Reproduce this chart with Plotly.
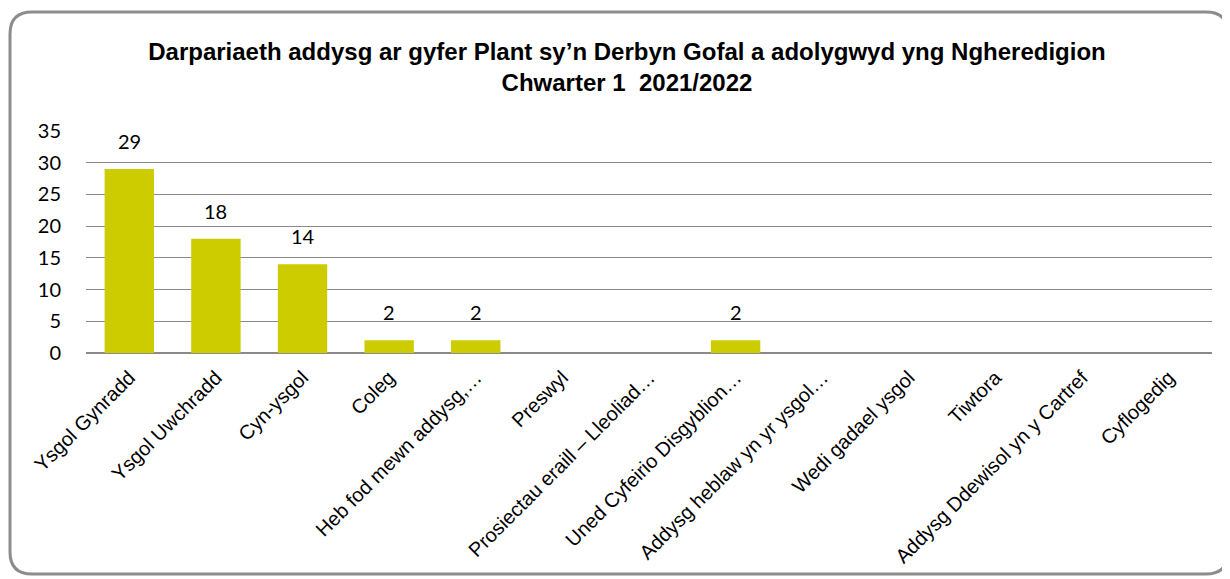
import plotly.graph_objects as go

categories = [
    "Ysgol Gynradd", "Ysgol Uwchradd", "Cyn-ysgol", "Coleg", "Heb fod mewn addysg,…",
    "Preswyl", "Prosiectau eraill – Lleoliad…", "Uned Cyfeirio Disgyblion…",
    "Addysg heblaw yn yr ysgol…", "Wedi gadael ysgol", "Tiwtora",
    "Addysg Ddewisol yn y Cartref", "Cyflogedig",
]
values = [29, 18, 14, 2, 2, 0, 0, 2, 0, 0, 0, 0, 0]
y_ticks = [0, 5, 10, 15, 20, 25, 30, 35]

# page has an 8px body margin; figure coordinates are page coordinates - 8
OFF = 8
W, H = 1222, 571
ML, MR, MT, MB = 86 - OFF, 18, 131 - OFF, 226
PW, PH = W - ML - MR, H - MT - MB

def px(x):
    return (x - OFF - ML) / PW

def py(y):
    return (H - MB - (y - OFF)) / PH

fig = go.Figure()
fig.add_trace(go.Bar(
    x=categories, y=values, marker=dict(color="#CCCC00", line=dict(width=0)),
    hoverinfo="x+y",
))

for c, v in zip(categories, values):
    if v > 0:
        fig.add_annotation(x=c, y=v, text=str(v), showarrow=False, yshift=28,
                           font=dict(family="Lato, Carlito, sans-serif", size=20, color="#000"))

# rounded border (page pixel coordinates)
x0, x1, y0, y1 = 10, 1228, 12, 574
r = 22
path = (
    f"M {px(x0)},{py(y0 + r)} "
    f"Q {px(x0)},{py(y0)} {px(x0 + r)},{py(y0)} "
    f"L {px(x1 - r)},{py(y0)} "
    f"Q {px(x1)},{py(y0)} {px(x1)},{py(y0 + r)} "
    f"L {px(x1)},{py(y1 - r)} "
    f"Q {px(x1)},{py(y1)} {px(x1 - r)},{py(y1)} "
    f"L {px(x0 + r)},{py(y1)} "
    f"Q {px(x0)},{py(y1)} {px(x0)},{py(y1 - r)} Z"
)
fig.add_shape(type="path", path=path, xref="paper", yref="paper",
              line=dict(color="#8C8C8C", width=3), layer="below")

fig.update_layout(
    width=W, height=H,
    margin=dict(l=ML, r=MR, t=MT, b=MB),
    paper_bgcolor="white", plot_bgcolor="white",
    bargap=0.43,
    showlegend=False,
    title=dict(
        text="Darpariaeth addysg ar gyfer Plant sy’n Derbyn Gofal a adolygwyd yng Ngheredigion<br>Chwarter 1  2021/2022",
        x=0.5 + 8 / W, xanchor="center", xref="container", y=1 - (60 - OFF) / H, yanchor="middle",
        font=dict(family="Liberation Sans, Arial, sans-serif",
                  size=24, color="#000", weight="bold"),
    ),
    xaxis=dict(
        tickangle=-45, tickfont=dict(family="Liberation Sans, Arial, sans-serif", size=20, color="#000"),
        showgrid=False, showline=False, ticks="", automargin=False, ticklabelstandoff=8,
    ),
    yaxis=dict(
        range=[0, 35], tickvals=y_ticks, ticktext=[str(t) for t in y_ticks],
        tickfont=dict(family="Lato, Carlito, sans-serif", size=20, color="#000"),
        showgrid=True, gridcolor="#8A8A8A", gridwidth=1,
        zeroline=True, zerolinecolor="#8A8A8A", zerolinewidth=2,
        showline=False, ticks="", ticklabelstandoff=24, automargin=False,
    ),
)

fig.write_html("out.html")
